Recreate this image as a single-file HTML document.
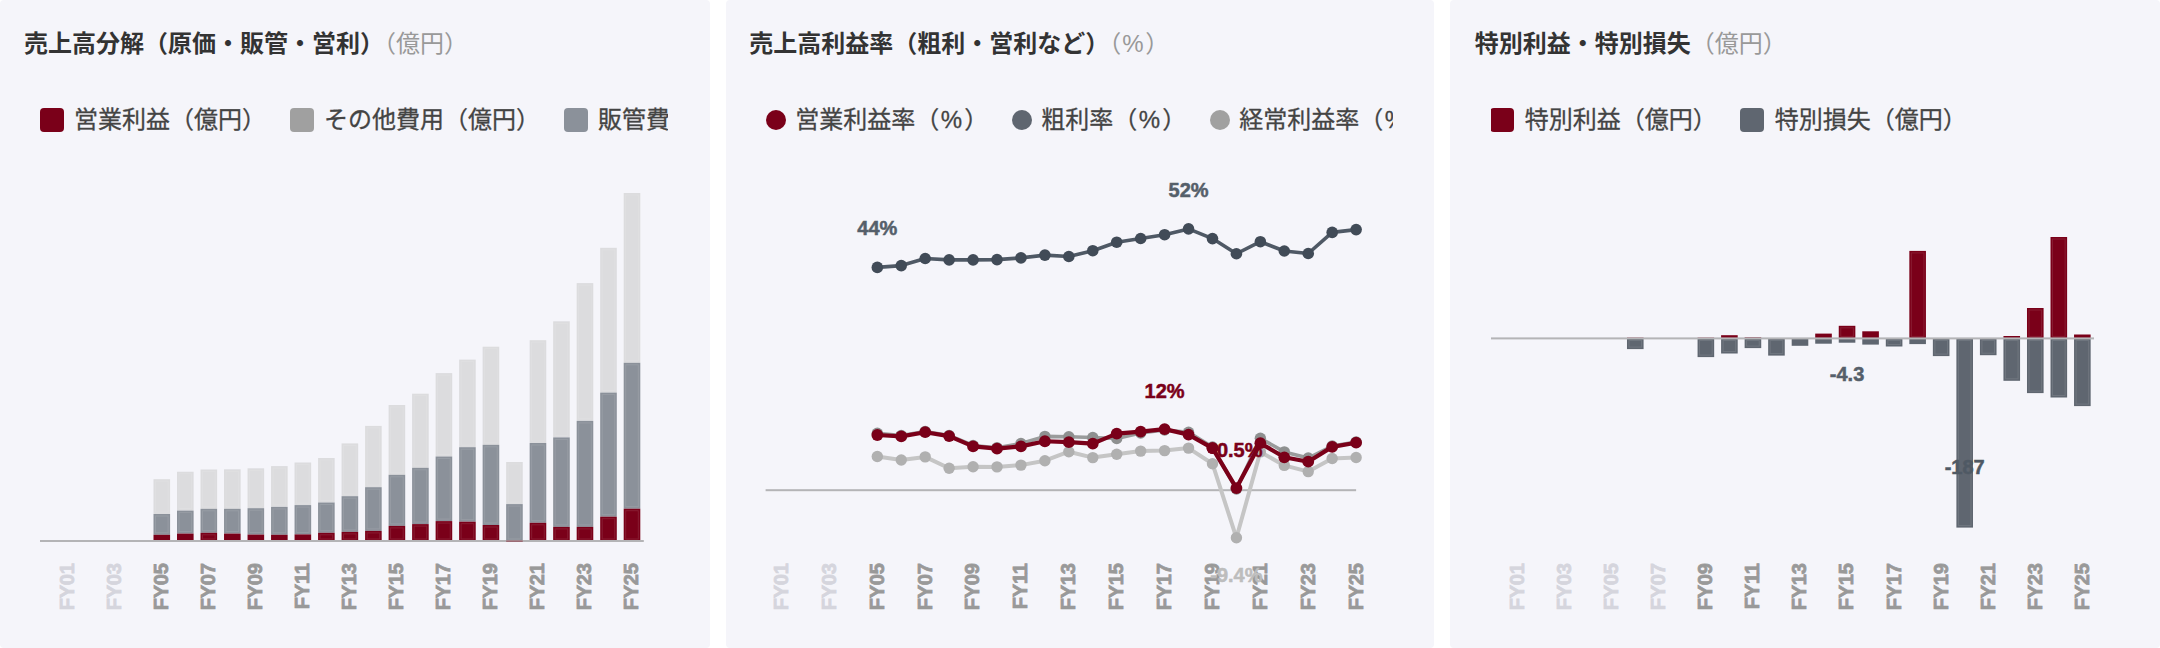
<!DOCTYPE html>
<html lang="ja">
<head>
<meta charset="utf-8">
<title>売上高分解・売上高利益率・特別利益</title>
<style>
html,body{margin:0;padding:0;}
body{width:2160px;height:648px;background:#fff;position:relative;overflow:hidden;font-family:"Liberation Sans", "Noto Sans CJK JP", sans-serif;}
.bg{position:absolute;top:0;height:648px;background:#f5f5fa;border-radius:4px;}
.panel{position:absolute;top:0;height:648px;width:709.33px;overflow:hidden;}
.title{position:absolute;left:24px;top:25.7px;height:36px;line-height:36px;font-size:24px;font-weight:700;color:#333;white-space:nowrap;letter-spacing:0;font-feature-settings:"palt" 0;text-spacing-trim:space-all;}
.unit{position:absolute;top:25.5px;height:36px;line-height:36px;font-size:24px;font-weight:400;color:#999;white-space:nowrap;text-spacing-trim:space-all;}
.legend{position:absolute;left:40px;top:96px;height:48px;width:628px;overflow:hidden;}
.li{position:absolute;top:0;height:48px;line-height:47px;font-size:24px;color:#444;-webkit-text-stroke:0.3px #444;white-space:nowrap;text-spacing-trim:space-all;}
.pc{margin:0 2px 0 1.5px;}
.sq{position:absolute;top:12px;width:24px;height:24px;border-radius:4px;}
.ci{position:absolute;top:14px;width:20px;height:20px;border-radius:50%;}
svg{position:absolute;left:0;top:0;}
svg text{font-family:"Liberation Sans",sans-serif;font-weight:700;font-size:20px;stroke-width:0.5px;paint-order:stroke fill;}
svg text.xl{letter-spacing:-0.2px;stroke-width:0.8px;}
</style>
</head>
<body>

<div class="bg" style="left:0;width:710px"></div><div class="bg" style="left:726px;width:708px"></div><div class="bg" style="left:1450px;width:710px"></div>
<div class="panel" style="left:0">
<div class="title">売上高分解（原価・販管・営利）</div>
<div class="unit" style="left:372px">（億円）</div>
<div class="legend">
<div class="sq" style="left:0;background:#7a0019"></div><div class="li" style="left:34px">営業利益（億円）</div>
<div class="sq" style="left:250px;background:#a0a0a0"></div><div class="li" style="left:284px">その他費用（億円）</div>
<div class="sq" style="left:524px;background:#8b919a"></div><div class="li" style="left:558px">販管費</div>
</div>
<svg width="709.33" height="648" viewBox="0 0 709.33 648">
<rect x="153.5" y="479.2" width="16.6" height="34.8" fill="#dcdcde"/><rect x="155.5" y="481.2" width="12.6" height="30.8" fill="none" stroke="#fff" stroke-opacity="0.11" stroke-width="1"/>
<rect x="153.5" y="514" width="16.6" height="20.8" fill="#8b919a"/><rect x="155.5" y="516" width="12.6" height="16.8" fill="none" stroke="#fff" stroke-opacity="0.11" stroke-width="1"/>
<rect x="153.5" y="534.8" width="16.6" height="6.2" fill="#7a0019"/>
<rect x="177.01" y="471.75" width="16.6" height="38.85" fill="#dcdcde"/><rect x="179.01" y="473.75" width="12.6" height="34.85" fill="none" stroke="#fff" stroke-opacity="0.11" stroke-width="1"/>
<rect x="177.01" y="510.6" width="16.6" height="23" fill="#8b919a"/><rect x="179.01" y="512.6" width="12.6" height="19" fill="none" stroke="#fff" stroke-opacity="0.11" stroke-width="1"/>
<rect x="177.01" y="533.6" width="16.6" height="7.4" fill="#7a0019"/>
<rect x="200.52" y="469.5" width="16.6" height="39.3" fill="#dcdcde"/><rect x="202.52" y="471.5" width="12.6" height="35.3" fill="none" stroke="#fff" stroke-opacity="0.11" stroke-width="1"/>
<rect x="200.52" y="508.8" width="16.6" height="24" fill="#8b919a"/><rect x="202.52" y="510.8" width="12.6" height="20" fill="none" stroke="#fff" stroke-opacity="0.11" stroke-width="1"/>
<rect x="200.52" y="532.8" width="16.6" height="8.2" fill="#7a0019"/><rect x="202.52" y="534.8" width="12.6" height="4.2" fill="none" stroke="#fff" stroke-opacity="0.11" stroke-width="1"/>
<rect x="224.03" y="469.3" width="16.6" height="39.5" fill="#dcdcde"/><rect x="226.03" y="471.3" width="12.6" height="35.5" fill="none" stroke="#fff" stroke-opacity="0.11" stroke-width="1"/>
<rect x="224.03" y="508.8" width="16.6" height="24.8" fill="#8b919a"/><rect x="226.03" y="510.8" width="12.6" height="20.8" fill="none" stroke="#fff" stroke-opacity="0.11" stroke-width="1"/>
<rect x="224.03" y="533.6" width="16.6" height="7.4" fill="#7a0019"/>
<rect x="247.54" y="468.3" width="16.6" height="39.9" fill="#dcdcde"/><rect x="249.54" y="470.3" width="12.6" height="35.9" fill="none" stroke="#fff" stroke-opacity="0.11" stroke-width="1"/>
<rect x="247.54" y="508.2" width="16.6" height="26.4" fill="#8b919a"/><rect x="249.54" y="510.2" width="12.6" height="22.4" fill="none" stroke="#fff" stroke-opacity="0.11" stroke-width="1"/>
<rect x="247.54" y="534.6" width="16.6" height="6.4" fill="#7a0019"/>
<rect x="271.05" y="466.1" width="16.6" height="40.8" fill="#dcdcde"/><rect x="273.05" y="468.1" width="12.6" height="36.8" fill="none" stroke="#fff" stroke-opacity="0.11" stroke-width="1"/>
<rect x="271.05" y="506.9" width="16.6" height="27.9" fill="#8b919a"/><rect x="273.05" y="508.9" width="12.6" height="23.9" fill="none" stroke="#fff" stroke-opacity="0.11" stroke-width="1"/>
<rect x="271.05" y="534.8" width="16.6" height="6.2" fill="#7a0019"/>
<rect x="294.56" y="462.5" width="16.6" height="42.6" fill="#dcdcde"/><rect x="296.56" y="464.5" width="12.6" height="38.6" fill="none" stroke="#fff" stroke-opacity="0.11" stroke-width="1"/>
<rect x="294.56" y="505.1" width="16.6" height="29.3" fill="#8b919a"/><rect x="296.56" y="507.1" width="12.6" height="25.3" fill="none" stroke="#fff" stroke-opacity="0.11" stroke-width="1"/>
<rect x="294.56" y="534.4" width="16.6" height="6.6" fill="#7a0019"/>
<rect x="318.07" y="458" width="16.6" height="44.5" fill="#dcdcde"/><rect x="320.07" y="460" width="12.6" height="40.5" fill="none" stroke="#fff" stroke-opacity="0.11" stroke-width="1"/>
<rect x="318.07" y="502.5" width="16.6" height="30.3" fill="#8b919a"/><rect x="320.07" y="504.5" width="12.6" height="26.3" fill="none" stroke="#fff" stroke-opacity="0.11" stroke-width="1"/>
<rect x="318.07" y="532.8" width="16.6" height="8.2" fill="#7a0019"/><rect x="320.07" y="534.8" width="12.6" height="4.2" fill="none" stroke="#fff" stroke-opacity="0.11" stroke-width="1"/>
<rect x="341.58" y="443.4" width="16.6" height="52.8" fill="#dcdcde"/><rect x="343.58" y="445.4" width="12.6" height="48.8" fill="none" stroke="#fff" stroke-opacity="0.11" stroke-width="1"/>
<rect x="341.58" y="496.2" width="16.6" height="35.7" fill="#8b919a"/><rect x="343.58" y="498.2" width="12.6" height="31.7" fill="none" stroke="#fff" stroke-opacity="0.11" stroke-width="1"/>
<rect x="341.58" y="531.9" width="16.6" height="9.1" fill="#7a0019"/><rect x="343.58" y="533.9" width="12.6" height="5.1" fill="none" stroke="#fff" stroke-opacity="0.11" stroke-width="1"/>
<rect x="365.09" y="425.9" width="16.6" height="61.3" fill="#dcdcde"/><rect x="367.09" y="427.9" width="12.6" height="57.3" fill="none" stroke="#fff" stroke-opacity="0.11" stroke-width="1"/>
<rect x="365.09" y="487.2" width="16.6" height="43.7" fill="#8b919a"/><rect x="367.09" y="489.2" width="12.6" height="39.7" fill="none" stroke="#fff" stroke-opacity="0.11" stroke-width="1"/>
<rect x="365.09" y="530.9" width="16.6" height="10.1" fill="#7a0019"/><rect x="367.09" y="532.9" width="12.6" height="6.1" fill="none" stroke="#fff" stroke-opacity="0.11" stroke-width="1"/>
<rect x="388.6" y="405" width="16.6" height="69.8" fill="#dcdcde"/><rect x="390.6" y="407" width="12.6" height="65.8" fill="none" stroke="#fff" stroke-opacity="0.11" stroke-width="1"/>
<rect x="388.6" y="474.8" width="16.6" height="51.1" fill="#8b919a"/><rect x="390.6" y="476.8" width="12.6" height="47.1" fill="none" stroke="#fff" stroke-opacity="0.11" stroke-width="1"/>
<rect x="388.6" y="525.9" width="16.6" height="15.1" fill="#7a0019"/><rect x="390.6" y="527.9" width="12.6" height="11.1" fill="none" stroke="#fff" stroke-opacity="0.11" stroke-width="1"/>
<rect x="412.11" y="393.7" width="16.6" height="74.1" fill="#dcdcde"/><rect x="414.11" y="395.7" width="12.6" height="70.1" fill="none" stroke="#fff" stroke-opacity="0.11" stroke-width="1"/>
<rect x="412.11" y="467.8" width="16.6" height="56.3" fill="#8b919a"/><rect x="414.11" y="469.8" width="12.6" height="52.3" fill="none" stroke="#fff" stroke-opacity="0.11" stroke-width="1"/>
<rect x="412.11" y="524.1" width="16.6" height="16.9" fill="#7a0019"/><rect x="414.11" y="526.1" width="12.6" height="12.9" fill="none" stroke="#fff" stroke-opacity="0.11" stroke-width="1"/>
<rect x="435.62" y="373.1" width="16.6" height="83.4" fill="#dcdcde"/><rect x="437.62" y="375.1" width="12.6" height="79.4" fill="none" stroke="#fff" stroke-opacity="0.11" stroke-width="1"/>
<rect x="435.62" y="456.5" width="16.6" height="64.6" fill="#8b919a"/><rect x="437.62" y="458.5" width="12.6" height="60.6" fill="none" stroke="#fff" stroke-opacity="0.11" stroke-width="1"/>
<rect x="435.62" y="521.1" width="16.6" height="19.9" fill="#7a0019"/><rect x="437.62" y="523.1" width="12.6" height="15.9" fill="none" stroke="#fff" stroke-opacity="0.11" stroke-width="1"/>
<rect x="459.13" y="359.6" width="16.6" height="87.6" fill="#dcdcde"/><rect x="461.13" y="361.6" width="12.6" height="83.6" fill="none" stroke="#fff" stroke-opacity="0.11" stroke-width="1"/>
<rect x="459.13" y="447.2" width="16.6" height="74.5" fill="#8b919a"/><rect x="461.13" y="449.2" width="12.6" height="70.5" fill="none" stroke="#fff" stroke-opacity="0.11" stroke-width="1"/>
<rect x="459.13" y="521.7" width="16.6" height="19.3" fill="#7a0019"/><rect x="461.13" y="523.7" width="12.6" height="15.3" fill="none" stroke="#fff" stroke-opacity="0.11" stroke-width="1"/>
<rect x="482.64" y="346.7" width="16.6" height="98.1" fill="#dcdcde"/><rect x="484.64" y="348.7" width="12.6" height="94.1" fill="none" stroke="#fff" stroke-opacity="0.11" stroke-width="1"/>
<rect x="482.64" y="444.8" width="16.6" height="80.2" fill="#8b919a"/><rect x="484.64" y="446.8" width="12.6" height="76.2" fill="none" stroke="#fff" stroke-opacity="0.11" stroke-width="1"/>
<rect x="482.64" y="525" width="16.6" height="16" fill="#7a0019"/><rect x="484.64" y="527" width="12.6" height="12" fill="none" stroke="#fff" stroke-opacity="0.11" stroke-width="1"/>
<rect x="506.15" y="462" width="16.6" height="42.1" fill="#dcdcde"/><rect x="508.15" y="464" width="12.6" height="38.1" fill="none" stroke="#fff" stroke-opacity="0.11" stroke-width="1"/>
<rect x="506.15" y="504.1" width="16.6" height="36.9" fill="#8b919a"/><rect x="508.15" y="506.1" width="12.6" height="32.9" fill="none" stroke="#fff" stroke-opacity="0.11" stroke-width="1"/>
<rect x="529.66" y="340.2" width="16.6" height="102.8" fill="#dcdcde"/><rect x="531.66" y="342.2" width="12.6" height="98.8" fill="none" stroke="#fff" stroke-opacity="0.11" stroke-width="1"/>
<rect x="529.66" y="443" width="16.6" height="79.8" fill="#8b919a"/><rect x="531.66" y="445" width="12.6" height="75.8" fill="none" stroke="#fff" stroke-opacity="0.11" stroke-width="1"/>
<rect x="529.66" y="522.8" width="16.6" height="18.2" fill="#7a0019"/><rect x="531.66" y="524.8" width="12.6" height="14.2" fill="none" stroke="#fff" stroke-opacity="0.11" stroke-width="1"/>
<rect x="553.17" y="321.3" width="16.6" height="116.1" fill="#dcdcde"/><rect x="555.17" y="323.3" width="12.6" height="112.1" fill="none" stroke="#fff" stroke-opacity="0.11" stroke-width="1"/>
<rect x="553.17" y="437.4" width="16.6" height="89.5" fill="#8b919a"/><rect x="555.17" y="439.4" width="12.6" height="85.5" fill="none" stroke="#fff" stroke-opacity="0.11" stroke-width="1"/>
<rect x="553.17" y="526.9" width="16.6" height="14.1" fill="#7a0019"/><rect x="555.17" y="528.9" width="12.6" height="10.1" fill="none" stroke="#fff" stroke-opacity="0.11" stroke-width="1"/>
<rect x="576.68" y="283.1" width="16.6" height="137.8" fill="#dcdcde"/><rect x="578.68" y="285.1" width="12.6" height="133.8" fill="none" stroke="#fff" stroke-opacity="0.11" stroke-width="1"/>
<rect x="576.68" y="420.9" width="16.6" height="106" fill="#8b919a"/><rect x="578.68" y="422.9" width="12.6" height="102" fill="none" stroke="#fff" stroke-opacity="0.11" stroke-width="1"/>
<rect x="576.68" y="526.9" width="16.6" height="14.1" fill="#7a0019"/><rect x="578.68" y="528.9" width="12.6" height="10.1" fill="none" stroke="#fff" stroke-opacity="0.11" stroke-width="1"/>
<rect x="600.19" y="247.8" width="16.6" height="144.8" fill="#dcdcde"/><rect x="602.19" y="249.8" width="12.6" height="140.8" fill="none" stroke="#fff" stroke-opacity="0.11" stroke-width="1"/>
<rect x="600.19" y="392.6" width="16.6" height="124.1" fill="#8b919a"/><rect x="602.19" y="394.6" width="12.6" height="120.1" fill="none" stroke="#fff" stroke-opacity="0.11" stroke-width="1"/>
<rect x="600.19" y="516.7" width="16.6" height="24.3" fill="#7a0019"/><rect x="602.19" y="518.7" width="12.6" height="20.3" fill="none" stroke="#fff" stroke-opacity="0.11" stroke-width="1"/>
<rect x="623.7" y="193" width="16.6" height="169.8" fill="#dcdcde"/><rect x="625.7" y="195" width="12.6" height="165.8" fill="none" stroke="#fff" stroke-opacity="0.11" stroke-width="1"/>
<rect x="623.7" y="362.8" width="16.6" height="145.9" fill="#8b919a"/><rect x="625.7" y="364.8" width="12.6" height="141.9" fill="none" stroke="#fff" stroke-opacity="0.11" stroke-width="1"/>
<rect x="623.7" y="508.7" width="16.6" height="32.3" fill="#7a0019"/><rect x="625.7" y="510.7" width="12.6" height="28.3" fill="none" stroke="#fff" stroke-opacity="0.11" stroke-width="1"/>
<rect x="40" y="540" width="603.8" height="2" fill="#b4b4b6"/>
<rect x="506.15" y="540.4" width="16.6" height="1.5" fill="#7a0019" fill-opacity="0.45"/>
<text class="xl" x="74.16" y="563.3" text-anchor="end" fill="#d5d5dd" stroke="#d5d5dd" transform="rotate(-90 74.16 563.3)">FY01</text>
<text class="xl" x="121.18" y="563.3" text-anchor="end" fill="#d5d5dd" stroke="#d5d5dd" transform="rotate(-90 121.18 563.3)">FY03</text>
<text class="xl" x="168.2" y="563.3" text-anchor="end" fill="#999999" stroke="#999999" transform="rotate(-90 168.2 563.3)">FY05</text>
<text class="xl" x="215.22" y="563.3" text-anchor="end" fill="#999999" stroke="#999999" transform="rotate(-90 215.22 563.3)">FY07</text>
<text class="xl" x="262.24" y="563.3" text-anchor="end" fill="#999999" stroke="#999999" transform="rotate(-90 262.24 563.3)">FY09</text>
<text class="xl" x="309.26" y="563.3" text-anchor="end" fill="#999999" stroke="#999999" transform="rotate(-90 309.26 563.3)">FY11</text>
<text class="xl" x="356.28" y="563.3" text-anchor="end" fill="#999999" stroke="#999999" transform="rotate(-90 356.28 563.3)">FY13</text>
<text class="xl" x="403.3" y="563.3" text-anchor="end" fill="#999999" stroke="#999999" transform="rotate(-90 403.3 563.3)">FY15</text>
<text class="xl" x="450.32" y="563.3" text-anchor="end" fill="#999999" stroke="#999999" transform="rotate(-90 450.32 563.3)">FY17</text>
<text class="xl" x="497.34" y="563.3" text-anchor="end" fill="#999999" stroke="#999999" transform="rotate(-90 497.34 563.3)">FY19</text>
<text class="xl" x="544.36" y="563.3" text-anchor="end" fill="#999999" stroke="#999999" transform="rotate(-90 544.36 563.3)">FY21</text>
<text class="xl" x="591.38" y="563.3" text-anchor="end" fill="#999999" stroke="#999999" transform="rotate(-90 591.38 563.3)">FY23</text>
<text class="xl" x="638.4" y="563.3" text-anchor="end" fill="#999999" stroke="#999999" transform="rotate(-90 638.4 563.3)">FY25</text>
</svg>
</div>
<div class="panel" style="left:725.33px">
<div class="title">売上高利益率（粗利・営利など）</div>
<div class="unit" style="left:372px">（<span class="pc" style="margin:0 1.5px 0 1px">%</span>）</div>
<div class="legend">
<div class="ci" style="left:1px;background:#7a0019"></div><div class="li" style="left:30px">営業利益率（<span class="pc">%</span>）</div>
<div class="ci" style="left:247px;background:#5f6670"></div><div class="li" style="left:276px">粗利率（<span class="pc">%</span>）</div>
<div class="ci" style="left:444.7px;background:#a0a0a0"></div><div class="li" style="left:474px">経常利益率（<span class="pc">%</span>）</div>
</div>
<svg width="709.33" height="648" viewBox="0 0 709.33 648">
<rect x="40.6" y="489.2" width="590.52" height="2" fill="#b4b4b6"/>
<polyline points="152.32,456.5 176.26,460 200.2,456.9 224.14,468.3 248.08,466.7 272.02,466.9 295.96,465.1 319.9,460.7 343.84,451.7 367.78,457.6 391.72,454.3 415.66,451.1 439.6,450.6 463.54,448.1 487.48,463.7 511.42,537.8 535.36,451.9 559.3,465.4 583.24,471.6 607.18,458.5 631.12,457.5" fill="none" stroke="#c5c5c5" stroke-width="4" stroke-linejoin="round" stroke-linecap="round"/><g fill="#b0b0b0"><circle cx="152.32" cy="456.5" r="5.7"/><circle cx="176.26" cy="460" r="5.7"/><circle cx="200.2" cy="456.9" r="5.7"/><circle cx="224.14" cy="468.3" r="5.7"/><circle cx="248.08" cy="466.7" r="5.7"/><circle cx="272.02" cy="466.9" r="5.7"/><circle cx="295.96" cy="465.1" r="5.7"/><circle cx="319.9" cy="460.7" r="5.7"/><circle cx="343.84" cy="451.7" r="5.7"/><circle cx="367.78" cy="457.6" r="5.7"/><circle cx="391.72" cy="454.3" r="5.7"/><circle cx="415.66" cy="451.1" r="5.7"/><circle cx="439.6" cy="450.6" r="5.7"/><circle cx="463.54" cy="448.1" r="5.7"/><circle cx="487.48" cy="463.7" r="5.7"/><circle cx="511.42" cy="537.8" r="5.7"/><circle cx="535.36" cy="451.9" r="5.7"/><circle cx="559.3" cy="465.4" r="5.7"/><circle cx="583.24" cy="471.6" r="5.7"/><circle cx="607.18" cy="458.5" r="5.7"/><circle cx="631.12" cy="457.5" r="5.7"/></g>
<polyline points="152.32,433.2 176.26,435.5 200.2,431.5 224.14,435.5 248.08,445.5 272.02,447.8 295.96,443.5 319.9,436.4 343.84,436.7 367.78,437.5 391.72,438.5 415.66,433 439.6,430 463.54,432.2 487.48,447 511.42,489 535.36,438.3 559.3,451.9 583.24,458 607.18,446 631.12,442" fill="none" stroke="#9a9c9c" stroke-width="3.6" stroke-linejoin="round" stroke-linecap="round"/><g fill="#8e9090"><circle cx="152.32" cy="433.2" r="5.7"/><circle cx="176.26" cy="435.5" r="5.7"/><circle cx="200.2" cy="431.5" r="5.7"/><circle cx="224.14" cy="435.5" r="5.7"/><circle cx="248.08" cy="445.5" r="5.7"/><circle cx="272.02" cy="447.8" r="5.7"/><circle cx="295.96" cy="443.5" r="5.7"/><circle cx="319.9" cy="436.4" r="5.7"/><circle cx="343.84" cy="436.7" r="5.7"/><circle cx="367.78" cy="437.5" r="5.7"/><circle cx="391.72" cy="438.5" r="5.7"/><circle cx="415.66" cy="433" r="5.7"/><circle cx="439.6" cy="430" r="5.7"/><circle cx="463.54" cy="432.2" r="5.7"/><circle cx="487.48" cy="447" r="5.7"/><circle cx="511.42" cy="489" r="5.7"/><circle cx="535.36" cy="438.3" r="5.7"/><circle cx="559.3" cy="451.9" r="5.7"/><circle cx="583.24" cy="458" r="5.7"/><circle cx="607.18" cy="446" r="5.7"/><circle cx="631.12" cy="442" r="5.7"/></g>
<polyline points="152.32,267.4 176.26,265.6 200.2,258.5 224.14,259.9 248.08,259.9 272.02,259.6 295.96,257.9 319.9,255.1 343.84,256.5 367.78,250.7 391.72,242.2 415.66,238.5 439.6,234.7 463.54,228.9 487.48,238.6 511.42,253.75 535.36,241.7 559.3,251 583.24,253.5 607.18,232.4 631.12,229.6" fill="none" stroke="#4f5965" stroke-width="3.6" stroke-linejoin="round" stroke-linecap="round"/><g fill="#414b57"><circle cx="152.32" cy="267.4" r="5.8"/><circle cx="176.26" cy="265.6" r="5.8"/><circle cx="200.2" cy="258.5" r="5.8"/><circle cx="224.14" cy="259.9" r="5.8"/><circle cx="248.08" cy="259.9" r="5.8"/><circle cx="272.02" cy="259.6" r="5.8"/><circle cx="295.96" cy="257.9" r="5.8"/><circle cx="319.9" cy="255.1" r="5.8"/><circle cx="343.84" cy="256.5" r="5.8"/><circle cx="367.78" cy="250.7" r="5.8"/><circle cx="391.72" cy="242.2" r="5.8"/><circle cx="415.66" cy="238.5" r="5.8"/><circle cx="439.6" cy="234.7" r="5.8"/><circle cx="463.54" cy="228.9" r="5.8"/><circle cx="487.48" cy="238.6" r="5.8"/><circle cx="511.42" cy="253.75" r="5.8"/><circle cx="535.36" cy="241.7" r="5.8"/><circle cx="559.3" cy="251" r="5.8"/><circle cx="583.24" cy="253.5" r="5.8"/><circle cx="607.18" cy="232.4" r="5.8"/><circle cx="631.12" cy="229.6" r="5.8"/></g>
<polyline points="152.32,435 176.26,436.4 200.2,432.2 224.14,436.1 248.08,446.4 272.02,448.6 295.96,446.4 319.9,441.25 343.84,442.2 367.78,443.6 391.72,433.6 415.66,431.6 439.6,429.1 463.54,434.6 487.48,448.1 511.42,488.1 535.36,443.2 559.3,457.3 583.24,461.7 607.18,446.9 631.12,442.7" fill="none" stroke="#7a0019" stroke-width="4.2" stroke-linejoin="round" stroke-linecap="round"/><g fill="#7a0019"><circle cx="152.32" cy="435" r="5.9"/><circle cx="176.26" cy="436.4" r="5.9"/><circle cx="200.2" cy="432.2" r="5.9"/><circle cx="224.14" cy="436.1" r="5.9"/><circle cx="248.08" cy="446.4" r="5.9"/><circle cx="272.02" cy="448.6" r="5.9"/><circle cx="295.96" cy="446.4" r="5.9"/><circle cx="319.9" cy="441.25" r="5.9"/><circle cx="343.84" cy="442.2" r="5.9"/><circle cx="367.78" cy="443.6" r="5.9"/><circle cx="391.72" cy="433.6" r="5.9"/><circle cx="415.66" cy="431.6" r="5.9"/><circle cx="439.6" cy="429.1" r="5.9"/><circle cx="463.54" cy="434.6" r="5.9"/><circle cx="487.48" cy="448.1" r="5.9"/><circle cx="511.42" cy="488.1" r="5.9"/><circle cx="535.36" cy="443.2" r="5.9"/><circle cx="559.3" cy="457.3" r="5.9"/><circle cx="583.24" cy="461.7" r="5.9"/><circle cx="607.18" cy="446.9" r="5.9"/><circle cx="631.12" cy="442.7" r="5.9"/></g>
<text class="xl" x="62.96" y="563.3" text-anchor="end" fill="#d5d5dd" stroke="#d5d5dd" transform="rotate(-90 62.96 563.3)">FY01</text>
<text class="xl" x="110.84" y="563.3" text-anchor="end" fill="#d5d5dd" stroke="#d5d5dd" transform="rotate(-90 110.84 563.3)">FY03</text>
<text class="xl" x="158.72" y="563.3" text-anchor="end" fill="#999999" stroke="#999999" transform="rotate(-90 158.72 563.3)">FY05</text>
<text class="xl" x="206.6" y="563.3" text-anchor="end" fill="#999999" stroke="#999999" transform="rotate(-90 206.6 563.3)">FY07</text>
<text class="xl" x="254.48" y="563.3" text-anchor="end" fill="#999999" stroke="#999999" transform="rotate(-90 254.48 563.3)">FY09</text>
<text class="xl" x="302.36" y="563.3" text-anchor="end" fill="#999999" stroke="#999999" transform="rotate(-90 302.36 563.3)">FY11</text>
<text class="xl" x="350.24" y="563.3" text-anchor="end" fill="#999999" stroke="#999999" transform="rotate(-90 350.24 563.3)">FY13</text>
<text class="xl" x="398.12" y="563.3" text-anchor="end" fill="#999999" stroke="#999999" transform="rotate(-90 398.12 563.3)">FY15</text>
<text class="xl" x="446" y="563.3" text-anchor="end" fill="#999999" stroke="#999999" transform="rotate(-90 446 563.3)">FY17</text>
<text class="xl" x="493.88" y="563.3" text-anchor="end" fill="#999999" stroke="#999999" transform="rotate(-90 493.88 563.3)">FY19</text>
<text class="xl" x="541.76" y="563.3" text-anchor="end" fill="#999999" stroke="#999999" transform="rotate(-90 541.76 563.3)">FY21</text>
<text class="xl" x="589.64" y="563.3" text-anchor="end" fill="#999999" stroke="#999999" transform="rotate(-90 589.64 563.3)">FY23</text>
<text class="xl" x="637.52" y="563.3" text-anchor="end" fill="#999999" stroke="#999999" transform="rotate(-90 637.52 563.3)">FY25</text>
<text x="152.32" y="235.2" text-anchor="middle" fill="#555f6a" stroke="#555f6a">44%</text>
<text x="463.54" y="197.4" text-anchor="middle" fill="#555f6a" stroke="#555f6a">52%</text>
<text x="439.6" y="397.8" text-anchor="middle" fill="#7a0019" stroke="#7a0019">12%</text>
<text x="511.42" y="456.6" text-anchor="middle" fill="#7a0019" stroke="#7a0019">-0.5%</text>
<text x="511.42" y="581.8" text-anchor="middle" fill="#bdbdbd" stroke="#bdbdbd">-9.4%</text>
<circle cx="487.48" cy="448.1" r="5.9" fill="#7a0019"/>
</svg>
</div>
<div class="panel" style="left:1450.67px">
<div class="title">特別利益・特別損失</div>
<div class="unit" style="left:240px">（億円）</div>
<div class="legend">
<div class="sq" style="left:-0.67px;background:#7a0019"></div><div class="li" style="left:34px">特別利益（億円）</div>
<div class="sq" style="left:249.33px;background:#5f6670"></div><div class="li" style="left:284px">特別損失（億円）</div>
</div>
<svg width="709.33" height="648" viewBox="0 0 709.33 648">
<rect x="175.98" y="338.4" width="16.6" height="10.7" fill="#5f6670"/><rect x="177.98" y="340.4" width="12.6" height="6.7" fill="none" stroke="#fff" stroke-opacity="0.11" stroke-width="1"/>
<rect x="175.98" y="337.6" width="16.6" height="0.8" fill="#7a0019"/>
<rect x="246.57" y="338.4" width="16.6" height="18.7" fill="#5f6670"/><rect x="248.57" y="340.4" width="12.6" height="14.7" fill="none" stroke="#fff" stroke-opacity="0.11" stroke-width="1"/>
<rect x="246.57" y="337.6" width="16.6" height="0.8" fill="#7a0019"/>
<rect x="270.1" y="338.4" width="16.6" height="15.1" fill="#5f6670"/><rect x="272.1" y="340.4" width="12.6" height="11.1" fill="none" stroke="#fff" stroke-opacity="0.11" stroke-width="1"/>
<rect x="270.1" y="335.2" width="16.6" height="3.2" fill="#7a0019"/>
<rect x="293.63" y="338.4" width="16.6" height="9.7" fill="#5f6670"/><rect x="295.63" y="340.4" width="12.6" height="5.7" fill="none" stroke="#fff" stroke-opacity="0.11" stroke-width="1"/>
<rect x="293.63" y="337.3" width="16.6" height="1.1" fill="#7a0019"/>
<rect x="317.16" y="338.4" width="16.6" height="17.2" fill="#5f6670"/><rect x="319.16" y="340.4" width="12.6" height="13.2" fill="none" stroke="#fff" stroke-opacity="0.11" stroke-width="1"/>
<rect x="340.69" y="338.4" width="16.6" height="7.4" fill="#5f6670"/>
<rect x="364.22" y="338.4" width="16.6" height="5.3" fill="#5f6670"/>
<rect x="364.22" y="333.6" width="16.6" height="4.8" fill="#7a0019"/>
<rect x="387.75" y="338.4" width="16.6" height="4.3" fill="#5f6670"/>
<rect x="387.75" y="325.8" width="16.6" height="12.6" fill="#7a0019"/><rect x="389.75" y="327.8" width="12.6" height="8.6" fill="none" stroke="#fff" stroke-opacity="0.11" stroke-width="1"/>
<rect x="411.28" y="338.4" width="16.6" height="6.2" fill="#5f6670"/>
<rect x="411.28" y="331.3" width="16.6" height="7.1" fill="#7a0019"/>
<rect x="434.81" y="338.4" width="16.6" height="8.1" fill="#5f6670"/><rect x="436.81" y="340.4" width="12.6" height="4.1" fill="none" stroke="#fff" stroke-opacity="0.11" stroke-width="1"/>
<rect x="458.34" y="338.4" width="16.6" height="5.7" fill="#5f6670"/>
<rect x="458.34" y="250.9" width="16.6" height="87.5" fill="#7a0019"/><rect x="460.34" y="252.9" width="12.6" height="83.5" fill="none" stroke="#fff" stroke-opacity="0.11" stroke-width="1"/>
<rect x="481.87" y="338.4" width="16.6" height="17.7" fill="#5f6670"/><rect x="483.87" y="340.4" width="12.6" height="13.7" fill="none" stroke="#fff" stroke-opacity="0.11" stroke-width="1"/>
<rect x="505.4" y="338.4" width="16.6" height="189.2" fill="#5f6670"/><rect x="507.4" y="340.4" width="12.6" height="185.2" fill="none" stroke="#fff" stroke-opacity="0.11" stroke-width="1"/>
<rect x="528.93" y="338.4" width="16.6" height="16.8" fill="#5f6670"/><rect x="530.93" y="340.4" width="12.6" height="12.8" fill="none" stroke="#fff" stroke-opacity="0.11" stroke-width="1"/>
<rect x="552.46" y="338.4" width="16.6" height="42.4" fill="#5f6670"/><rect x="554.46" y="340.4" width="12.6" height="38.4" fill="none" stroke="#fff" stroke-opacity="0.11" stroke-width="1"/>
<rect x="552.46" y="336" width="16.6" height="2.4" fill="#7a0019"/>
<rect x="575.99" y="338.4" width="16.6" height="54.7" fill="#5f6670"/><rect x="577.99" y="340.4" width="12.6" height="50.7" fill="none" stroke="#fff" stroke-opacity="0.11" stroke-width="1"/>
<rect x="575.99" y="308" width="16.6" height="30.4" fill="#7a0019"/><rect x="577.99" y="310" width="12.6" height="26.4" fill="none" stroke="#fff" stroke-opacity="0.11" stroke-width="1"/>
<rect x="599.52" y="338.4" width="16.6" height="59.1" fill="#5f6670"/><rect x="601.52" y="340.4" width="12.6" height="55.1" fill="none" stroke="#fff" stroke-opacity="0.11" stroke-width="1"/>
<rect x="599.52" y="237" width="16.6" height="101.4" fill="#7a0019"/><rect x="601.52" y="239" width="12.6" height="97.4" fill="none" stroke="#fff" stroke-opacity="0.11" stroke-width="1"/>
<rect x="623.05" y="338.4" width="16.6" height="67.7" fill="#5f6670"/><rect x="625.05" y="340.4" width="12.6" height="63.7" fill="none" stroke="#fff" stroke-opacity="0.11" stroke-width="1"/>
<rect x="623.05" y="334.5" width="16.6" height="3.9" fill="#7a0019"/>
<rect x="40" y="337.4" width="603" height="2" fill="#b4b4b6"/>
<text x="396.05" y="380.6" text-anchor="middle" fill="#555f6a" stroke="#555f6a">-4.3</text>
<text x="513.7" y="473.8" text-anchor="middle" fill="#4f5964" stroke="#4f5964">-187</text>
<text class="xl" x="73.03" y="563.3" text-anchor="end" fill="#d5d5dd" stroke="#d5d5dd" transform="rotate(-90 73.03 563.3)">FY01</text>
<text class="xl" x="120.09" y="563.3" text-anchor="end" fill="#d5d5dd" stroke="#d5d5dd" transform="rotate(-90 120.09 563.3)">FY03</text>
<text class="xl" x="167.15" y="563.3" text-anchor="end" fill="#d5d5dd" stroke="#d5d5dd" transform="rotate(-90 167.15 563.3)">FY05</text>
<text class="xl" x="214.21" y="563.3" text-anchor="end" fill="#d5d5dd" stroke="#d5d5dd" transform="rotate(-90 214.21 563.3)">FY07</text>
<text class="xl" x="261.27" y="563.3" text-anchor="end" fill="#999999" stroke="#999999" transform="rotate(-90 261.27 563.3)">FY09</text>
<text class="xl" x="308.33" y="563.3" text-anchor="end" fill="#999999" stroke="#999999" transform="rotate(-90 308.33 563.3)">FY11</text>
<text class="xl" x="355.39" y="563.3" text-anchor="end" fill="#999999" stroke="#999999" transform="rotate(-90 355.39 563.3)">FY13</text>
<text class="xl" x="402.45" y="563.3" text-anchor="end" fill="#999999" stroke="#999999" transform="rotate(-90 402.45 563.3)">FY15</text>
<text class="xl" x="449.51" y="563.3" text-anchor="end" fill="#999999" stroke="#999999" transform="rotate(-90 449.51 563.3)">FY17</text>
<text class="xl" x="496.57" y="563.3" text-anchor="end" fill="#999999" stroke="#999999" transform="rotate(-90 496.57 563.3)">FY19</text>
<text class="xl" x="543.63" y="563.3" text-anchor="end" fill="#999999" stroke="#999999" transform="rotate(-90 543.63 563.3)">FY21</text>
<text class="xl" x="590.69" y="563.3" text-anchor="end" fill="#999999" stroke="#999999" transform="rotate(-90 590.69 563.3)">FY23</text>
<text class="xl" x="637.75" y="563.3" text-anchor="end" fill="#999999" stroke="#999999" transform="rotate(-90 637.75 563.3)">FY25</text>
</svg>
</div>
</body>
</html>
